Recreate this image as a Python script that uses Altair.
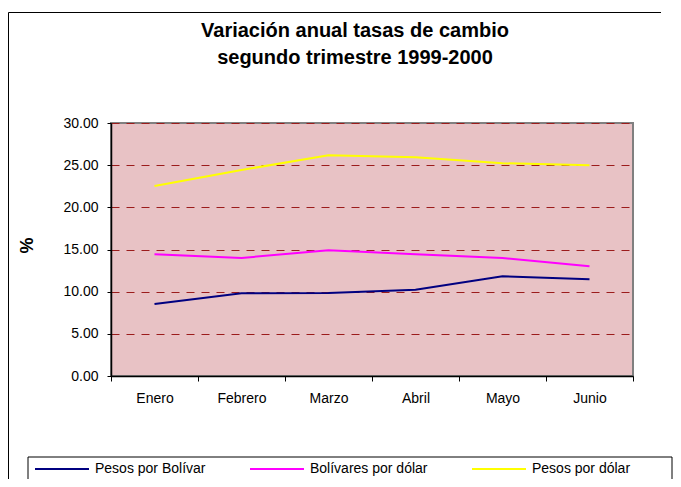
import altair as alt
import pandas as pd

meses = ["Enero", "Febrero", "Marzo", "Abril", "Mayo", "Junio"]
series = ["Pesos por Bolívar", "Bolívares por dólar", "Pesos por dólar"]
pesos_por_bolivar = [8.53, 9.80, 9.84, 10.24, 11.83, 11.47]
bolivares_por_dolar = [14.44, 14.00, 14.92, 14.44, 14.00, 13.00]
pesos_por_dolar = [22.54, 24.43, 26.17, 25.95, 25.23, 25.00]
y_ticks = [0, 5, 10, 15, 20, 25, 30]
colores = ["#000080", "#ff00ff", "#ffff00"]

rows = []
for nombre, valores in zip(series, [pesos_por_bolivar, bolivares_por_dolar, pesos_por_dolar]):
    for i, (m, v) in enumerate(zip(meses, valores)):
        rows.append({"mes": m, "serie": nombre, "valor": v, "idx": i})
df = pd.DataFrame(rows)

FONT = "Liberation Sans"
W, H = 522, 253

lines = alt.Chart(df).mark_line(strokeWidth=2).encode(
    x=alt.X(
        "mes:N",
        sort=meses,
        scale=alt.Scale(type="band", paddingInner=0, paddingOuter=0),
        axis=alt.Axis(
            title=None, labelAngle=0, tickBand="extent", labelFontSize=14,
            labelFont=FONT, labelColor="black", labelPadding=10, tickSize=5,
            tickColor="black", domainColor="black", domainWidth=1.5, grid=False,
        ),
    ),
    y=alt.Y(
        "valor:Q",
        scale=alt.Scale(domain=[0, 30], nice=False, zero=True),
        axis=alt.Axis(
            values=y_ticks, format=".2f", title="%", titleFont=FONT,
            titleFontSize=18, titleFontWeight="bold", titleColor="black",
            titleAngle=-90, titleX=-84, titleY=122, titleAlign="center",
            titleBaseline="middle",
            labelFontSize=14, labelFont=FONT, labelColor="black",
            labelPadding=9, tickSize=4, tickColor="black",
            domainColor="black", domainWidth=1.5,
            grid=True, gridColor="#9b1c1c", gridDash=[8, 7], gridWidth=1,
        ),
    ),
    color=alt.Color(
        "serie:N",
        scale=alt.Scale(domain=series, range=colores),
        legend=alt.Legend(
            title=None, orient="none", legendX=-77, legendY=318,
            direction="horizontal", symbolType="stroke", symbolSize=2916,
            symbolStrokeWidth=2, labelFontSize=14, labelFont=FONT,
            labelColor="black", labelOffset=5, columnPadding=40, padding=0,
        ),
    ),
    order=alt.Order("idx:Q"),
)

one = pd.DataFrame({"a": [0]})
frame_top = alt.Chart(one).mark_rule(color="black", strokeWidth=1).encode(
    x=alt.value(-102.5), x2=alt.value(550), y=alt.value(-110.5)
)
frame_left = alt.Chart(one).mark_rule(color="black", strokeWidth=1).encode(
    x=alt.value(-102.5), y=alt.value(-110.5), y2=alt.value(368)
)
legend_box = alt.Chart(one).mark_rect(fillOpacity=0, stroke="black", strokeWidth=1).encode(
    x=alt.value(-83), x2=alt.value(561), y=alt.value(334), y2=alt.value(362)
)

chart = alt.layer(frame_top, frame_left, legend_box, lines).properties(
    width=W,
    height=H,
    background="white",
    autosize=alt.AutoSizeParams(type="none"),
    padding={"left": 103, "top": 115, "right": 40, "bottom": 103},
    title=alt.TitleParams(
        text=["Variación anual tasas de cambio", "segundo trimestre 1999-2000"],
        fontSize=20, font=FONT, fontWeight="bold", color="black",
        anchor="middle", frame="group", dx=-17, offset=-56, lineHeight=27,
    ),
).configure_view(
    fill="#e8c2c5", stroke="#808080", strokeWidth=2
)

chart.save("out.html", embed_options={"renderer": "svg", "actions": False})
